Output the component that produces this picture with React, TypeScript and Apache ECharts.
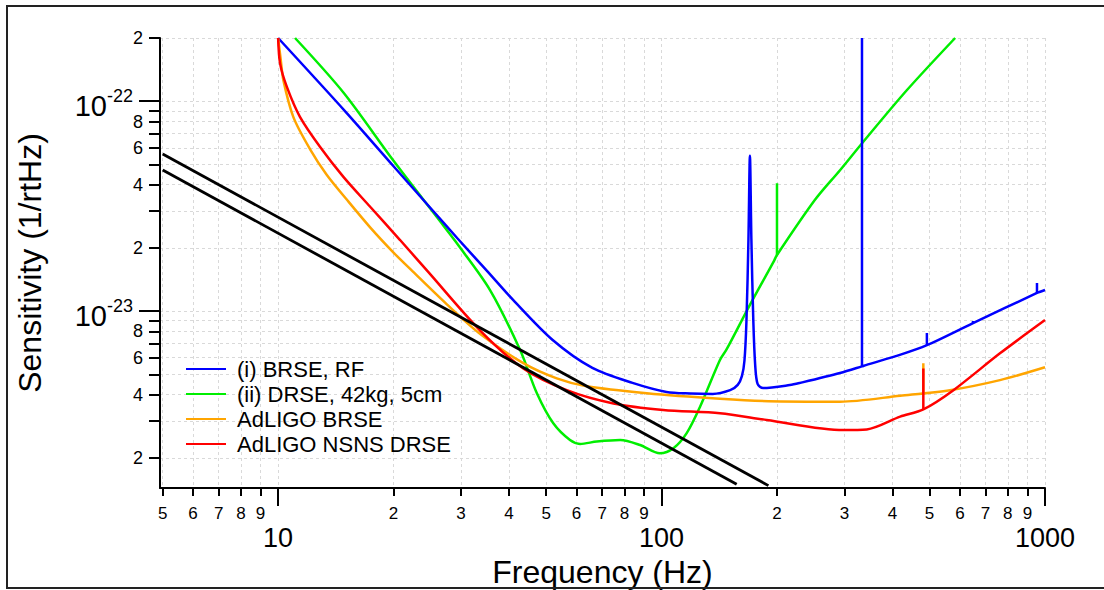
import React, { useEffect, useRef } from "react";
import * as echarts from "echarts";

// ---------- axis ticks (raw values) ----------
const xAllTicks = [5, 6, 7, 8, 9, 10, 20, 30, 40, 50, 60, 70, 80, 90, 100, 200, 300, 400, 500, 600, 700, 800, 900, 1000];
const xMinorLabels = [5, 6, 7, 8, 9, 20, 30, 40, 50, 60, 70, 80, 90, 200, 300, 400, 500, 600, 700, 800, 900];
const xMajorTicks = [10, 100, 1000];
const yAllTicks = [
  2e-24, 3e-24, 4e-24, 5e-24, 6e-24, 7e-24, 8e-24, 9e-24, 1e-23,
  2e-23, 3e-23, 4e-23, 5e-23, 6e-23, 7e-23, 8e-23, 9e-23, 1e-22, 2e-22,
];
const yMinorLabels = [2e-24, 4e-24, 6e-24, 8e-24, 2e-23, 4e-23, 6e-23, 8e-23, 2e-22];
const yMajorTicks = [1e-23, 1e-22];
const xRange = [4.92, 1000];
const yRange = [1.436e-24, 2e-22];

// ---------- series data: [frequency Hz, sensitivity 1/rtHz] ----------
const brseRF: [number, number][] = [
  [10, 2.0e-22], [15, 8.9e-23], [20, 4.9e-23], [25, 3.09e-23], [29.3, 2.23e-23], [35.1, 1.55e-23],
  [41, 1.13e-23], [52, 7.28e-24], [66, 5.36e-24], [84, 4.55e-24], [103, 4.12e-24],
  [119, 4.05e-24], [136, 4.03e-24], [151, 4.2e-24], [158, 4.45e-24], [162, 4.9e-24], [164.5, 5.8e-24],
  [166.5, 9e-24], [168.5, 2.2e-23], [170, 5.5e-23], [171.5, 2.2e-23], [173.5, 9e-24], [175.5, 5.5e-24],
  [178, 4.5e-24], [184, 4.3e-24], [216, 4.44e-24], [230, 4.55e-24], [292, 5.07e-24], [333, 5.45e-24],
  [341, 5.53e-24], [420, 6.2e-24], [492, 6.88e-24], [649, 8.77e-24], [953, 1.22e-23], [1000, 1.26e-23],
];
// spikes: [frequency, base, top]
const brseSpikes: [number, number, number][] = [
  [333.2, 5.45e-24, 2.0e-22], [492, 6.88e-24, 7.86e-24], [649, 8.77e-24, 8.98e-24], [953, 1.22e-23, 1.36e-23],
];
const drse42kg: [number, number][] = [
  [11.07, 2.0e-22], [14.8, 1.1e-22], [20, 5.2e-23], [26.7, 2.62e-23], [29, 2.15e-23], [35.7, 1.26e-23],
  [42.8, 6.5e-24], [47.3, 4.06e-24], [52.2, 2.92e-24], [57.7, 2.43e-24], [61.3, 2.33e-24], [67.8, 2.39e-24],
  [78, 2.43e-24], [87.9, 2.3e-24], [99, 2.1e-24], [107.4, 2.22e-24], [116.3, 2.62e-24], [126, 3.5e-24],
  [142, 5.85e-24], [148, 6.6e-24], [170, 1.07e-23], [195.7, 1.71e-23], [200, 1.85e-23],
  [251, 3.38e-23], [292, 4.69e-23], [333, 6.29e-23], [436, 1.127e-22], [583, 2.0e-22],
];
const drseSpikes: [number, number, number][] = [[200, 1.85e-23, 4.07e-23]];
const adligoBRSE: [number, number][] = [
  [10, 2.0e-22], [10.15, 1.6e-22], [10.32, 1.26e-22], [10.96, 8.4e-23], [12.12, 5.9e-23], [13.4, 4.45e-23],
  [15.1, 3.4e-23], [17.4, 2.5e-23], [20, 1.9e-23], [22.4, 1.55e-23], [27.5, 1.08e-23], [33.6, 7.8e-24],
  [43.6, 5.65e-24], [53.3, 4.78e-24], [63.8, 4.38e-24], [91.5, 4.06e-24], [142, 3.82e-24], [190, 3.72e-24],
  [292, 3.7e-24], [419, 3.95e-24], [565, 4.2e-24], [763, 4.69e-24], [1000, 5.4e-24],
];
const adligoBRSESpikes: [number, number, number][] = [[481.6, 4.06e-24, 5.64e-24]];
const adligoNSNS: [number, number][] = [
  [10, 2.0e-22], [10.12, 1.51e-22], [10.54, 1.17e-22], [11.41, 8.4e-23], [12.87, 6.05e-23], [14.8, 4.36e-23],
  [17.38, 3.14e-23], [20.8, 2.18e-23], [24.66, 1.533e-23], [33.6, 8.1e-24], [43.6, 5.33e-24],
  [56.6, 4.2e-24], [74.9, 3.63e-24], [101, 3.38e-24], [142, 3.26e-24], [188, 3.03e-24], [298, 2.71e-24],
  [343, 2.73e-24], [419, 3.14e-24], [481.6, 3.4e-24], [577, 4.2e-24], [763, 6.29e-24], [1000, 9.06e-24],
];
const adligoNSNSSpikes: [number, number, number][] = [[481.6, 3.4e-24, 5.33e-24]];
const blackUpper: [number, number][] = [[5, 5.6e-23], [190, 1.474e-24]];
const blackLower: [number, number][] = [[5, 4.7e-23], [157, 1.497e-24]];

const seriesNames = ["(i) BRSE, RF", "(ii) DRSE, 42kg, 5cm", "AdLIGO BRSE", "AdLIGO NSNS DRSE"];
const seriesColors = ["#0000ff", "#00ee00", "#ffa500", "#ff0000"];

const FONT = "'Liberation Sans', Arial, Helvetica, sans-serif";
const L = (v: number) => Math.log10(v);

function mantissa(v: number): number {
  const e = Math.floor(v + 1e-9);
  return Math.round(Math.pow(10, v - e));
}

export default function App() {
  const ref = useRef<HTMLDivElement>(null);
  useEffect(() => {
    if (!ref.current) return;
    const chart = echarts.init(ref.current, undefined, { renderer: "svg" });
    const toLog = (d: [number, number][]) => d.map(([f, h]) => [L(f), L(h)]);
    const spikeData = (s: [number, number, number][]) => {
      const out: any[] = [];
      s.forEach(([f, b, t]) => {
        out.push([L(f), L(b)], [L(f), L(t)], ["-", "-"]);
      });
      return out;
    };
    const curve = (name: string, data: any[], color: string, smooth: number | false, width = 2.5) => ({
      type: "line",
      name,
      data,
      symbol: "none",
      showSymbol: false,
      smooth,
      connectNulls: false,
      color,
      itemStyle: { color },
      lineStyle: { color, width },
      xAxisIndex: 0,
      yAxisIndex: 0,
      emphasis: { disabled: true },
      silent: true,
    });
    const gridLine = { show: true, lineStyle: { color: "#d9d9d9", type: [3, 3], width: 1 } };
    const tickStyle = { color: "#000", width: 2 };
    const xBase = { type: "value", min: L(xRange[0]), max: L(xRange[1]), position: "bottom", offset: 0, scale: true };
    const yBase = { type: "value", min: L(yRange[0]), max: L(yRange[1]), position: "left", offset: 0, scale: true };
    const option: any = {
      animation: false,
      backgroundColor: "#ffffff",
      textStyle: { fontFamily: FONT },
      grid: { left: 160, right: 59, top: 38, bottom: 102, outerBoundsMode: "none", containLabel: false },
      legend: {
        data: seriesNames,
        orient: "vertical",
        left: 181,
        top: 353,
        itemWidth: 40,
        itemHeight: 14,
        itemGap: 3,
        icon: "path://M0,6 L40,6 L40,8 L0,8 Z",
        textStyle: { fontSize: 22, color: "#000", fontFamily: FONT, lineHeight: 22, padding: [0, 0, 0, 6] },
        selectedMode: false,
      },
      xAxis: [
        {
          ...xBase,
          name: "Frequency (Hz)",
          nameLocation: "middle",
          nameGap: 68,
          nameTextStyle: { fontSize: 32, color: "#000", fontFamily: FONT },
          axisLine: { show: true, onZero: false, lineStyle: { color: "#000", width: 2 } },
          axisTick: { show: true, customValues: xAllTicks.map(L), length: 8, lineStyle: tickStyle },
          axisLabel: {
            customValues: xMinorLabels.map(L),
            formatter: (v: number) => String(mantissa(v)),
            margin: 17,
            hideOverlap: false,
            color: "#000",
            fontSize: 17,
            fontFamily: FONT,
          },
          splitLine: gridLine,
        },
        {
          ...xBase,
          axisLine: { show: false, onZero: false },
          axisTick: { show: true, customValues: xMajorTicks.map(L), length: 18, lineStyle: tickStyle },
          axisLabel: {
            customValues: xMajorTicks.map(L),
            formatter: (v: number) => String(Math.round(Math.pow(10, v))),
            margin: 36,
            hideOverlap: false,
            color: "#000",
            fontSize: 27,
            lineHeight: 27,
            fontFamily: FONT,
          },
          splitLine: { show: false },
        },
      ],
      yAxis: [
        {
          ...yBase,
          name: "Sensitivity (1/rtHz)",
          nameLocation: "middle",
          nameGap: 114,
          nameTextStyle: { fontSize: 32, color: "#000", fontFamily: FONT },
          axisLine: { show: true, onZero: false, lineStyle: { color: "#000", width: 2 } },
          axisTick: { show: true, customValues: yAllTicks.map(L), length: 11, lineStyle: tickStyle },
          axisLabel: {
            customValues: yMinorLabels.map(L),
            formatter: (v: number) => String(mantissa(v)),
            margin: 17,
            hideOverlap: false,
            color: "#000",
            fontSize: 18,
            fontFamily: FONT,
          },
          splitLine: gridLine,
        },
        {
          ...yBase,
          axisLine: { show: false, onZero: false },
          axisTick: { show: true, customValues: yMajorTicks.map(L), length: 21, lineStyle: tickStyle },
          axisLabel: {
            customValues: yMajorTicks.map(L),
            formatter: (v: number) => `{b|10}{s|${Math.round(v)}}`,
            margin: 27,
            hideOverlap: false,
            color: "#000",
            rich: {
              b: { fontSize: 29, lineHeight: 29, padding: [5, 0, 0, 0], verticalAlign: "top", color: "#000", fontFamily: FONT },
              s: { fontSize: 18, lineHeight: 18, verticalAlign: "top", color: "#000", fontFamily: FONT },
            },
          },
          splitLine: { show: false },
        },
      ],
      series: [
        curve(seriesNames[1], toLog(drse42kg), seriesColors[1], 0.3),
        curve("drse-spikes", spikeData(drseSpikes), seriesColors[1], false),
        curve(seriesNames[0], toLog(brseRF), seriesColors[0], 0.3),
        curve("brse-spikes", spikeData(brseSpikes), seriesColors[0], false),
        curve(seriesNames[2], toLog(adligoBRSE), seriesColors[2], 0.3),
        curve("adligo-brse-spikes", spikeData(adligoBRSESpikes), seriesColors[2], false),
        curve(seriesNames[3], toLog(adligoNSNS), seriesColors[3], 0.3),
        curve("adligo-nsns-spikes", spikeData(adligoNSNSSpikes), seriesColors[3], false),
        curve("black-a", toLog(blackUpper), "#000000", false, 2.8),
        curve("black-b", toLog(blackLower), "#000000", false, 2.8),
        { type: "line", data: [], xAxisIndex: 1, yAxisIndex: 1, silent: true },
      ],
      graphic: [
        {
          type: "rect",
          shape: { x: 7, y: 6, width: 1100, height: 582 },
          style: { fill: "none", stroke: "#222", lineWidth: 2 },
          silent: true,
          z: 100,
        },
      ],
    };
    chart.setOption(option);
    return () => chart.dispose();
  }, []);
  return (
    <div
      ref={ref}
      style={{ position: "absolute", left: 0, top: 0, width: 1104, height: 590, background: "#fff" }}
    />
  );
}
